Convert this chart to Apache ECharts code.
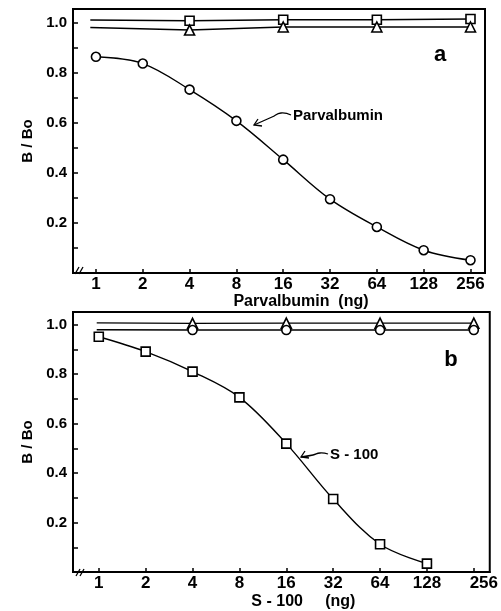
<!DOCTYPE html>
<html>
<head>
<meta charset="utf-8">
<script src="https://cdn.jsdelivr.net/npm/echarts@6/dist/echarts.min.js"></script>
<style>
  html, body { margin: 0; padding: 0; background: #fff; }
  #chart { width: 501px; height: 611px; }
</style>
</head>
<body>
<div id="chart"></div>
<script>
// 横轴：剂量 (ng)，按 log2 等距排列
const doses = [1, 2, 4, 8, 16, 32, 64, 128, 256];
const tickLabels = ['1', '2', '4', '8', '16', '32', '64', '128', '256'];
const yTickValues = [0.1, 0.2, 0.3, 0.4, 0.5, 0.6, 0.7, 0.8, 0.9, 1.0];
const yLabelValues = [0.2, 0.4, 0.6, 0.8, 1.0];

// 图 a：Parvalbumin 标准曲线
const parvalbuminBo = [0.864, 0.837, 0.733, 0.608, 0.453, 0.295, 0.184, 0.091, 0.051];
const ctrlDosesA = [0.92, 4, 16, 64, 256];
const squaresA = [1.011, 1.008, 1.012, 1.012, 1.015];
const trianglesA = [0.981, 0.971, 0.983, 0.983, 0.983];

// 图 b：S-100 标准曲线
const s100Doses = [1, 2, 4, 8, 16, 32, 64, 128];
const s100Bo = [0.951, 0.891, 0.810, 0.706, 0.519, 0.295, 0.112, 0.034];
const ctrlDosesB = [0.97, 4, 16, 64, 256];
const trianglesB = [1.007, 1.005, 1.006, 1.006, 1.006];
const circlesB = [0.979, 0.978, 0.978, 0.978, 0.978];

const FONT = 'Liberation Sans, Arial, sans-serif';
const log2 = v => Math.log2(v);
const xTickValues = doses.map(log2);

// 第一个点只画线，不画标记
function toPoints(xs, ys, firstBare) {
  return xs.map((d, i) => {
    const p = { value: [log2(d), ys[i]] };
    if (firstBare && i === 0) p.symbol = 'none';
    return p;
  });
}

function xAxisOf(gridIndex, min, max, name, nameGap, lastPad) {
  return {
    type: 'value', gridIndex, min, max,
    name, nameLocation: 'middle', nameGap,
    nameTextStyle: { fontFamily: FONT, fontSize: 16, fontWeight: 'bold', color: '#000', padding: [0, 0, 0, 44] },
    splitLine: { show: false },
    axisLine: { onZero: false, lineStyle: { color: '#000', width: 2 } },
    axisTick: { inside: true, length: 4, customValues: xTickValues, lineStyle: { color: '#000', width: 1.5 } },
    axisLabel: {
      customValues: xTickValues, margin: 3, color: '#000',
      fontFamily: FONT, fontSize: 17, fontWeight: 'bold',
      formatter: v => {
        const i = Math.round(v);
        if (i === 8 && lastPad) return '{p|' + tickLabels[i] + '}';
        return tickLabels[i];
      },
      rich: { p: { padding: [0, 0, 0, lastPad || 0], fontFamily: FONT, fontSize: 17, fontWeight: 'bold', color: '#000' } }
    }
  };
}

function yAxisOf(gridIndex, max, nameGap) {
  return {
    type: 'value', gridIndex, min: 0, max,
    name: 'B / Bo', nameLocation: 'middle', nameGap,
    nameTextStyle: { fontFamily: FONT, fontSize: 15, fontWeight: 'bold', color: '#000' },
    splitLine: { show: false },
    axisLine: { onZero: false, lineStyle: { color: '#000', width: 2 } },
    axisTick: { inside: true, length: 5, customValues: yTickValues, lineStyle: { color: '#000', width: 1.5 } },
    axisLabel: {
      customValues: yLabelValues, margin: 6, color: '#000',
      fontFamily: FONT, fontSize: 15, fontWeight: 'bold',
      formatter: v => v.toFixed(1)
    }
  };
}

function lineSeries(idx, data, symbol, size, smooth) {
  return {
    type: 'line', xAxisIndex: idx, yAxisIndex: idx, data,
    symbol, symbolSize: size, smooth: smooth || false,
    showSymbol: true, animation: false,
    lineStyle: { color: '#000', width: 1.4 },
    itemStyle: { color: '#fff', borderColor: '#000', borderWidth: 1.6 }
  };
}

function breakMark(x, y) {
  return {
    type: 'group', children: [
      { type: 'rect', shape: { x: x - 5, y: y - 5, width: 11, height: 8 }, style: { fill: '#fff' } },
      { type: 'line', shape: { x1: x - 5, y1: y + 3, x2: x - 1, y2: y - 4 }, style: { stroke: '#000', lineWidth: 1.3 } },
      { type: 'line', shape: { x1: x - 1, y1: y + 3, x2: x + 3, y2: y - 4 }, style: { stroke: '#000', lineWidth: 1.3 } }
    ]
  };
}

function arrow(points, tip) {
  return {
    type: 'group', children: [
      { type: 'polyline', shape: { points, smooth: 0.5 }, style: { stroke: '#000', lineWidth: 1.3, fill: null } },
      { type: 'polyline', shape: { points: [[tip[0] + 4, tip[1] - 6], tip, [tip[0] + 8, tip[1] + 1]] },
        style: { stroke: '#000', lineWidth: 1.3, fill: null } }
    ]
  };
}

const chart = echarts.init(document.getElementById('chart'), null, { renderer: 'canvas' });

chart.setOption({
  backgroundColor: '#fff',
  animation: false,
  grid: [
    { left: 73, top: 9, right: 16, bottom: 338, show: true, borderColor: '#000', borderWidth: 2 },
    { left: 73, top: 312, right: 8, bottom: 37, show: true, borderColor: '#000', borderWidth: 2 }
  ],
  xAxis: [
    xAxisOf(0, -0.49, 8.31, 'Parvalbumin  (ng)', 17, 0),
    xAxisOf(1, -0.55, 8.34, 'S - 100     (ng)', 22, 20)
  ],
  yAxis: [
    yAxisOf(0, 1.055, 38),
    yAxisOf(1, 1.051, 35)
  ],
  series: [
    lineSeries(0, toPoints(doses, parvalbuminBo, false), 'circle', 9, 0.35),
    lineSeries(0, toPoints(ctrlDosesA, squaresA, true), 'rect', 9),
    lineSeries(0, toPoints(ctrlDosesA, trianglesA, true), 'triangle', 10),
    lineSeries(1, toPoints(s100Doses, s100Bo, false), 'rect', 9, 0.35),
    lineSeries(1, toPoints(ctrlDosesB, trianglesB, true), 'triangle', 10),
    lineSeries(1, toPoints(ctrlDosesB, circlesB, true), 'circle', 9)
  ],
  graphic: [
    breakMark(80, 271),
    breakMark(81, 573),
    { type: 'text', x: 440, y: 55, style: { text: 'a', font: 'bold 22px ' + FONT, fill: '#000', align: 'center', verticalAlign: 'middle' } },
    { type: 'text', x: 451, y: 360, style: { text: 'b', font: 'bold 22px ' + FONT, fill: '#000', align: 'center', verticalAlign: 'middle' } },
    { type: 'text', x: 293, y: 116, style: { text: 'Parvalbumin', font: 'bold 15px ' + FONT, fill: '#000', align: 'left', verticalAlign: 'middle' } },
    { type: 'text', x: 330, y: 455, style: { text: 'S - 100', font: 'bold 15px ' + FONT, fill: '#000', align: 'left', verticalAlign: 'middle' } },
    arrow([[291, 115], [281, 113], [272, 117], [263, 121], [254, 125]], [254, 125]),
    arrow([[328, 454], [320, 453], [313, 455], [301, 457]], [301, 457])
  ]
});

window.addEventListener('resize', () => chart.resize());
</script>
</body>
</html>
